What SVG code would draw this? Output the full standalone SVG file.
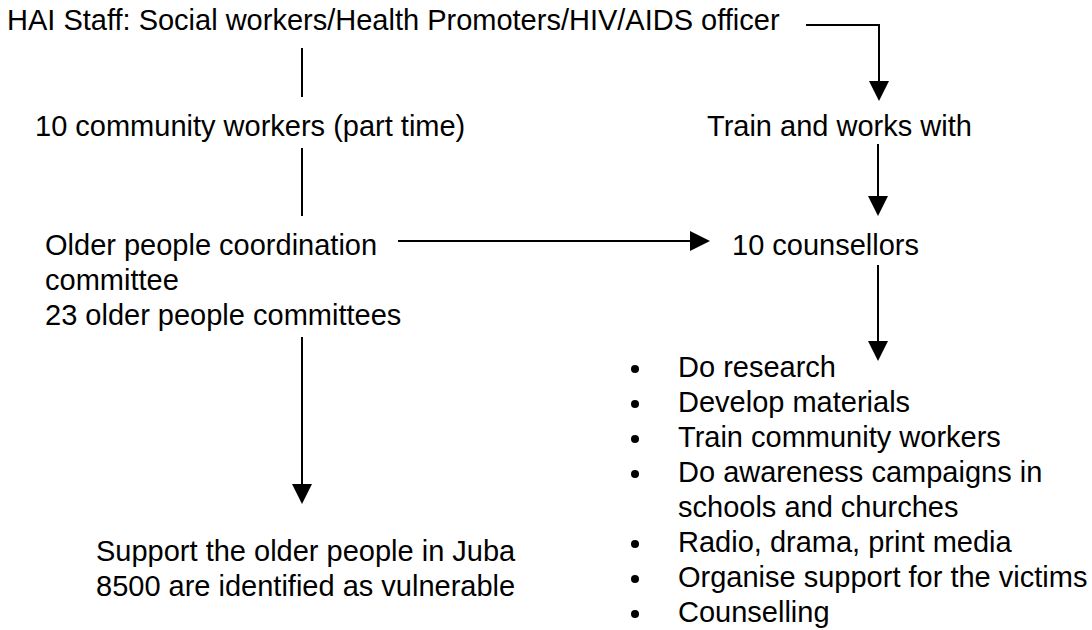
<svg xmlns="http://www.w3.org/2000/svg" width="1092" height="630" viewBox="0 0 1092 630">
<defs>
<style>
text { font-family: "Liberation Sans", Arial, sans-serif; font-size: 29px; fill: #000; }
.ln { stroke: #000; stroke-width: 2; fill: none; }
</style>
<marker id="ah" viewBox="0 0 20 20" refX="0" refY="10" markerWidth="20" markerHeight="20" markerUnits="userSpaceOnUse" orient="auto">
<path d="M0,0 L20,10 L0,20 z" fill="#000"/>
</marker>
</defs>
<rect width="1092" height="630" fill="#fff"/>
<g id="connectors">
<line class="ln" x1="302" y1="48" x2="302" y2="97"/>
<line class="ln" x1="302" y1="148" x2="302" y2="216"/>
<line class="ln" x1="302" y1="337" x2="302" y2="484" marker-end="url(#ah)"/>
<polyline class="ln" points="806,25 879,25 879,81" marker-end="url(#ah)"/>
<line class="ln" x1="878" y1="144" x2="878" y2="196" marker-end="url(#ah)"/>
<line class="ln" x1="398" y1="241" x2="690" y2="241" marker-end="url(#ah)"/>
<line class="ln" x1="878" y1="265" x2="878" y2="341" marker-end="url(#ah)"/>
</g>
<g id="hai-staff"><text x="7" y="30">HAI Staff: Social workers/Health Promoters/HIV/AIDS officer</text></g>
<g id="community-workers"><text x="35" y="136">10 community workers (part time)</text></g>
<g id="train"><text x="707" y="136">Train and works with</text></g>
<g id="committee"><text x="45" y="255">Older people coordination</text><text x="45" y="290">committee</text><text x="45" y="325">23 older people committees</text></g>
<g id="counsellors"><text x="732" y="255">10 counsellors</text></g>
<g id="support"><text x="96" y="561">Support the older people in Juba</text><text x="96" y="596">8500 are identified as vulnerable</text></g>
<g id="activities">
<circle cx="635" cy="369" r="4"/><text x="678" y="377">Do research</text>
<circle cx="635" cy="404" r="4"/><text x="678" y="412">Develop materials</text>
<circle cx="635" cy="439" r="4"/><text x="678" y="447">Train community workers</text>
<circle cx="635" cy="474" r="4"/><text x="678" y="482">Do awareness campaigns in</text>
<text x="678" y="517">schools and churches</text>
<circle cx="635" cy="544" r="4"/><text x="678" y="552">Radio, drama, print media</text>
<circle cx="635" cy="579" r="4"/><text x="678" y="587">Organise support for the victims</text>
<circle cx="635" cy="614" r="4"/><text x="678" y="622">Counselling</text>
</g>
</svg>
